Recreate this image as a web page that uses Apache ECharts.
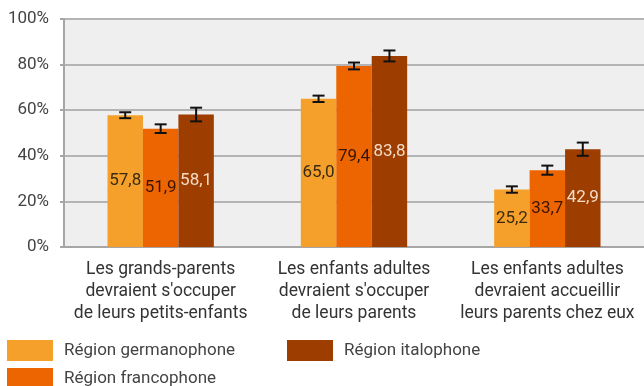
<!DOCTYPE html>
<html>
<head>
<meta charset="utf-8">
<script src="https://cdn.jsdelivr.net/npm/echarts@6/dist/echarts.min.js"></script>
<style>
  html, body { margin: 0; padding: 0; background: #ffffff; }
  #chart { width: 644px; height: 386px; }
</style>
</head>
<body>
<div id="chart"></div>
<script>
// Categories (statements) and shares of agreement by language region, in %
const categories = [
  "Les grands-parents\ndevraient s'occuper\nde leurs petits-enfants",
  "Les enfants adultes\ndevraient s'occuper\nde leurs parents",
  "Les enfants adultes\ndevraient accueillir\nleurs parents chez eux"
];
const seriesNames = ['Région germanophone', 'Région francophone', 'Région italophone'];
const germanophone = [57.8, 65.0, 25.2];
const francophone = [51.9, 79.4, 33.7];
const italophone = [58.1, 83.8, 42.9];
// Half-width of the confidence intervals, in percentage points
const errGermanophone = [1.3, 1.4, 1.4];
const errFrancophone = [1.9, 1.5, 2.0];
const errItalophone = [3.0, 2.4, 2.9];
const yTicks = [0, 20, 40, 60, 80, 100];

const colors = ['#f5a02a', '#ec6500', '#9e3d00'];
const labelColors = ['#3a2a10', '#3a1400', '#f3dcc8'];
const FONT = 'Roboto, "Noto Sans", sans-serif';

const values = [germanophone, francophone, italophone];
const errors = [errGermanophone, errFrancophone, errItalophone];

const chart = echarts.init(document.getElementById('chart'), null, { renderer: 'canvas' });

const fmt = v => v.toFixed(1).replace('.', ',');

const barGroupRatio = 0.55; // share of a category band covered by the three bars

const barSeries = values.map((arr, i) => ({
  name: seriesNames[i],
  type: 'bar',
  data: arr,
  barGap: '0%',
  barCategoryGap: ((1 - barGroupRatio) * 100) + '%',
  itemStyle: { color: colors[i] },
  label: {
    show: true,
    position: 'inside',
    formatter: p => fmt(p.value),
    color: labelColors[i],
    fontFamily: FONT,
    fontSize: 17
  },
  z: 2
}));

// Error bars drawn on top of each bar
const errorSeries = values.map((arr, i) => ({
  type: 'custom',
  name: seriesNames[i] + ' IC',
  data: arr.map((v, j) => [j, v - errors[i][j], v + errors[i][j]]),
  z: 5,
  silent: true,
  renderItem: function (params, api) {
    const x = api.value(0);
    const lo = api.coord([x, api.value(1)]);
    const hi = api.coord([x, api.value(2)]);
    const band = api.size([1, 0])[0];
    const bw = band * barGroupRatio / 3;
    const cx = lo[0] + (i - 1) * bw;
    const cap = 6;
    const style = { stroke: '#111', lineWidth: 2, fill: null };
    return {
      type: 'group',
      children: [
        { type: 'line', shape: { x1: cx, y1: lo[1], x2: cx, y2: hi[1] }, style },
        { type: 'line', shape: { x1: cx - cap, y1: lo[1], x2: cx + cap, y2: lo[1] }, style },
        { type: 'line', shape: { x1: cx - cap, y1: hi[1], x2: cx + cap, y2: hi[1] }, style }
      ]
    };
  }
}));

const legendBase = {
  itemWidth: 46,
  itemHeight: 21,
  padding: 0,
  icon: 'rect',
  textStyle: { fontFamily: FONT, fontSize: 17, color: '#444', padding: [0, 0, 0, 6] },
  selectedMode: false
};

chart.setOption({
  animation: false,
  textStyle: { fontFamily: FONT },
  grid: {
    left: 64, top: 19, width: 582, height: 228,
    show: true, backgroundColor: '#efefef', borderWidth: 0
  },
  legend: [
    Object.assign({}, legendBase, { data: [seriesNames[0]], left: 7, top: 340 }),
    Object.assign({}, legendBase, { data: [seriesNames[2]], left: 287, top: 340 }),
    Object.assign({}, legendBase, { data: [seriesNames[1]], left: 7, top: 368 })
  ],
  xAxis: {
    type: 'category',
    data: categories,
    axisLine: { show: true, lineStyle: { color: '#a6a6a6', width: 2 } },
    axisTick: { show: false },
    axisLabel: {
      color: '#333', fontFamily: FONT, fontSize: 17.5, lineHeight: 22,
      margin: 12, interval: 0
    }
  },
  yAxis: {
    type: 'value',
    min: yTicks[0], max: yTicks[yTicks.length - 1], interval: 20,
    axisLine: { show: true, lineStyle: { color: '#a6a6a6', width: 2 } },
    axisTick: { show: true, length: 4, lineStyle: { color: '#a6a6a6', width: 2 } },
    splitLine: { show: true, lineStyle: { color: '#b4b4b4', width: 2 } },
    axisLabel: {
      formatter: '{value}%', color: '#444', fontFamily: FONT, fontSize: 17, margin: 15
    }
  },
  series: barSeries.concat(errorSeries)
});
</script>
</body>
</html>
